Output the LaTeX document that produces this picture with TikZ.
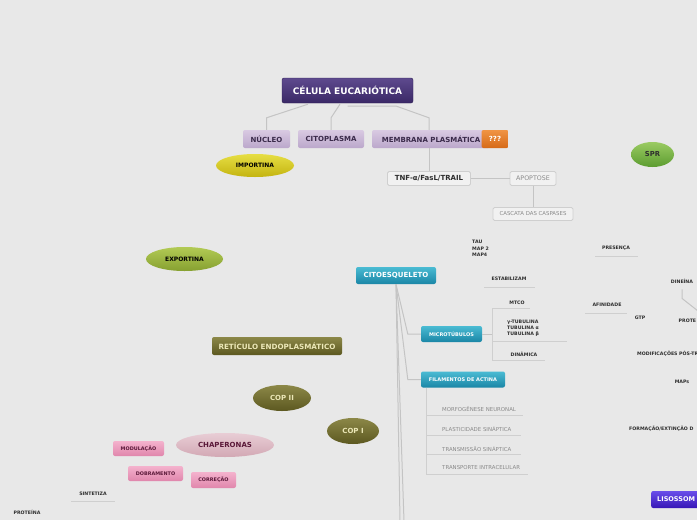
\documentclass[tikz,border=0pt]{standalone}
\usepackage{fontspec}
\setmainfont{DejaVu Sans}
\usetikzlibrary{shapes.geometric}
\definecolor{bgc}{HTML}{E8E8E8}
\definecolor{linec}{HTML}{C4C4C4}
\definecolor{ulc}{HTML}{CFCFCF}
\definecolor{txt}{HTML}{2E2E2E}
\definecolor{gtxt}{HTML}{8A8A8A}
\definecolor{titT}{HTML}{5E4A8E}\definecolor{titB}{HTML}{3A2866}
\definecolor{lpT}{HTML}{D9CAE2}\definecolor{lpB}{HTML}{BBA7CB}\definecolor{lpTx}{HTML}{3A2A4A}
\definecolor{orT}{HTML}{F09444}\definecolor{orB}{HTML}{D66A18}
\definecolor{tlT}{HTML}{4ABBD3}\definecolor{tlB}{HTML}{1A86A6}
\definecolor{olT}{HTML}{8C8848}\definecolor{olB}{HTML}{5C5820}\definecolor{olTx}{HTML}{ECE8B8}
\definecolor{pkT}{HTML}{F4B2CD}\definecolor{pkB}{HTML}{E086AC}\definecolor{pkTx}{HTML}{5A1838}
\definecolor{chT}{HTML}{E8CDD5}\definecolor{chB}{HTML}{D2A8B4}
\definecolor{yeT}{HTML}{E6DE44}\definecolor{yeB}{HTML}{C4B410}
\definecolor{grT}{HTML}{B2CA54}\definecolor{grB}{HTML}{86A030}
\definecolor{spT}{HTML}{9ACB62}\definecolor{spB}{HTML}{5C9C30}
\definecolor{liT}{HTML}{6A4EEA}\definecolor{liB}{HTML}{3616B6}
\begin{document}
\begin{tikzpicture}[x=1pt,y=-1pt,
  conn/.style={draw=linec, line width=1pt},
  uline/.style={draw=ulc, line width=1pt},
  box/.style={rectangle, rounded corners=2pt, inner sep=0pt},
  titlebox/.style={box, top color=titT, bottom color=titB, draw=titB!80!black, line width=0.4pt, text=white, font=\fontsize{9}{10}\selectfont\bfseries},
  lpbox/.style={box, top color=lpT, bottom color=lpB, text=lpTx, font=\fontsize{7}{8}\selectfont\bfseries},
  orbox/.style={box, top color=orT, bottom color=orB, text=white, font=\fontsize{7}{8}\selectfont\bfseries},
  tlbox/.style={box, top color=tlT, bottom color=tlB, text=white, font=\bfseries},
  olbox/.style={box, top color=olT, bottom color=olB, text=olTx, font=\fontsize{7.2}{8}\selectfont\bfseries},
  pkbox/.style={box, top color=pkT, bottom color=pkB, text=pkTx, font=\fontsize{4.9}{6}\selectfont\bfseries},
  gbox/.style={rectangle, rounded corners=1.5pt, inner sep=0pt, fill=bgc!60!white, draw=ulc, line width=0.8pt},
  ell/.style={ellipse, inner sep=0pt},
  lbl/.style={inner sep=1pt, text=txt, font=\fontsize{4.7}{6.5}\selectfont\bfseries},
  glbl/.style={inner sep=1pt, text=gtxt, font=\fontsize{5.4}{6}\selectfont, anchor=west}
]
\fill[bgc] (0,0) rectangle (697,520);
\useasboundingbox (0,0) rectangle (697,520);
\clip (0,0) rectangle (697,520);

% top level
\node[titlebox, minimum width=131pt, minimum height=25pt] (cel) at (347.5,90.5) {CÉLULA EUCARIÓTICA};
\node[lpbox, minimum width=47pt, minimum height=18pt] (nuc) at (266.5,139) {NÚCLEO};
\node[lpbox, minimum width=66pt, minimum height=18pt] (cito) at (331,139) {CITOPLASMA};
\node[lpbox, minimum width=118pt, minimum height=18pt] (memb) at (431,139) {MEMBRANA PLASMÁTICA};
\node[orbox, minimum width=27pt, minimum height=18pt] (q) at (495,139) {???};

\draw[conn] ([xshift=-39.5pt,yshift=-1pt]cel.south) -- ([yshift=12pt]nuc.north) -- (nuc.north);
\draw[conn] ([xshift=-7.5pt,yshift=-1pt]cel.south) -- ([yshift=12pt]cito.north) -- (cito.north);
\draw[conn] ([yshift=-3pt]cel.south) -- ++(49,0) -- ([xshift=-2pt,yshift=12pt]memb.north) -- ([xshift=-2pt]memb.north);

% membrana branch
\node[gbox, minimum width=83pt, minimum height=14pt, text=txt, font=\fontsize{7}{8}\selectfont\bfseries] (tnf) at (429,178.5) {TNF-α/FasL/TRAIL};
\node[gbox, minimum width=46pt, minimum height=14pt, text=gtxt, font=\fontsize{6.3}{7}\selectfont] (apo) at (533,178.5) {APOPTOSE};
\node[gbox, minimum width=80pt, minimum height=13pt, text=gtxt, font=\fontsize{5.4}{6}\selectfont] (casc) at (533,214) {CASCATA DAS CASPASES};
\draw[conn] ([xshift=-2pt]memb.south) -- (tnf.north);
\draw[conn] (tnf.east) -- (apo.west);
\draw[conn] (apo.south) -- (casc.north);

% ellipses
\node[ell, top color=yeT, bottom color=yeB, minimum width=78pt, minimum height=23pt, text=black, font=\fontsize{6}{7}\selectfont\bfseries] (imp) at (255,165.5) {IMPORTINA};
\node[ell, top color=grT, bottom color=grB, minimum width=77pt, minimum height=24pt, text=black, font=\fontsize{6}{7}\selectfont\bfseries] (exp) at (184.5,259) {EXPORTINA};
\node[ell, top color=spT, bottom color=spB, minimum width=43pt, minimum height=25pt, text=txt, font=\fontsize{6.8}{8}\selectfont\bfseries] (spr) at (652.5,154.5) {SPR};

% right side labels
\node[lbl, align=left, anchor=north west] (tau) at (471,239) {TAU\\MAP 2\\MAP4};
\node[lbl] (estab) at (509,279) {ESTABILIZAM};
\coordinate (estabL) at (484,287); \coordinate (estabR) at (535,287);
\draw[uline] (estabL) -- (estabR);
\node[lbl] (pres) at (616,248) {PRESENÇA};
\coordinate (presL) at (595,256); \coordinate (presR) at (638,256);
\draw[uline] (presL) -- (presR);
\node[lbl] (afin) at (607,305) {AFINIDADE};
\coordinate (afinL) at (585,313); \coordinate (afinR) at (627,313);
\draw[uline] (afinL) -- (afinR);
\node[lbl] (gtp) at (640,318) {GTP};
\node[lbl] (dine) at (682,281) {DINEÍNA};
\coordinate (dinE) at (698,311);
\draw[conn] ([yshift=-5pt]dine.south) -- ([yshift=-14pt]dine.south) -- (dinE);
\node[lbl, anchor=west, inner sep=0.5pt] (prot) at (678,321) {PROTE};
\node[lbl, anchor=west] (modif) at (636,354) {MODIFICAÇÕES PÓS-TR};
\node[lbl] (maps) at (682,382) {MAPs};
\node[lbl, anchor=west] (form) at (628,429) {FORMAÇÃO/EXTINÇÃO D};
\node[box, anchor=west, top color=liT, bottom color=liB, text=white, font=\fontsize{6.5}{8}\selectfont\bfseries, minimum height=17pt, text width=62pt, inner xsep=6pt, align=left] (lis) at (651,499.5) {LISOSSOM};

% citoesqueleto
\node[tlbox, font=\fontsize{7}{8}\selectfont\bfseries, minimum width=80pt, minimum height=17pt] (citoe) at (396,275.5) {CITOESQUELETO};
\node[tlbox, font=\fontsize{5}{6}\selectfont\bfseries, minimum width=61pt, minimum height=16pt] (micro) at (451.5,334) {MICROTÚBULOS};
\node[tlbox, font=\fontsize{5}{6}\selectfont\bfseries, minimum width=84pt, minimum height=16pt] (fil) at (463,379.5) {FILAMENTOS DE ACTINA};
\coordinate (bot1) at (404,521); \coordinate (bot2) at (400,521);
\draw[conn] (citoe.south) -- ([xshift=-13pt]micro.west) -- (micro.west);
\draw[conn] (citoe.south) -- ([xshift=-13pt]fil.west) -- (fil.west);
\draw[conn] (citoe.south) -- (bot1);
\draw[conn] (citoe.south) -- (bot2);

% microtubulos branch
\coordinate (mj) at (492,334);
\coordinate (mtop) at (492,308); \coordinate (mbot) at (492,360);
\draw[conn] (micro.east) -- (mj);
\draw[uline] (mtop) -- (mbot);
\coordinate (m1) at (530,308); \coordinate (m2a) at (492,341); \coordinate (m2) at (567,341); \coordinate (m3) at (545,360);
\draw[uline] (mtop) -- (m1);
\draw[uline] (m2a) -- (m2);
\draw[uline] (mbot) -- (m3);
\node[lbl] (mtco) at (517,302.5) {MTCO};
\node[lbl, align=left, anchor=north west] (tub) at (506,318.5) {γ-TUBULINA\\[-0.3pt]TUBULINA α\\[-0.3pt]TUBULINA β};
\node[lbl] (din) at (524,354) {DINÂMICA};

% filamentos branch
\coordinate (fv0) at (426,474);
\draw[uline] ([xshift=-37pt]fil.south) -- (fv0);
\coordinate (f1a) at (426,415) ; \coordinate (f1) at (523,415);
\coordinate (f2a) at (426,435) ; \coordinate (f2) at (521,435);
\coordinate (f3a) at (426,454) ; \coordinate (f3) at (521,454);
\coordinate (f4) at (528,474);
\draw[uline] (f1a) -- (f1);
\draw[uline] (f2a) -- (f2);
\draw[uline] (f3a) -- (f3);
\draw[uline] (fv0) -- (f4);
\node[glbl] (morf) at (441,409) {MORFOGÊNESE NEURONAL};
\node[glbl] (plas) at (441,429.5) {PLASTICIDADE SINÁPTICA};
\node[glbl] (trans) at (441,449) {TRANSMISSÃO SINÁPTICA};
\node[glbl] (transp) at (441,468) {TRANSPORTE INTRACELULAR};

% reticulo and cops
\node[olbox, minimum width=130pt, minimum height=18pt] (ret) at (277,346) {RETÍCULO ENDOPLASMÁTICO};
\node[ell, top color=olT, bottom color=olB, text=olTx, minimum width=58pt, minimum height=26pt, font=\fontsize{7}{8}\selectfont\bfseries] (cop2) at (282,398) {COP II};
\node[ell, top color=olT, bottom color=olB, text=olTx, minimum width=52pt, minimum height=26pt, font=\fontsize{7}{8}\selectfont\bfseries] (cop1) at (353,431) {COP I};

% chaperonas
\node[ell, top color=chT, bottom color=chB, text=pkTx, minimum width=98pt, minimum height=24pt, font=\fontsize{7}{8}\selectfont\bfseries] (chap) at (225,445) {CHAPERONAS};
\node[pkbox, minimum width=51pt, minimum height=15pt] (mod) at (138.5,448.5) {MODULAÇÃO};
\node[pkbox, minimum width=55pt, minimum height=15pt] (dob) at (155.5,473.5) {DOBRAMENTO};
\node[pkbox, minimum width=45pt, minimum height=16pt] (cor) at (213.5,480) {CORREÇÃO};
\node[lbl] (sint) at (93,494) {SINTETIZA};
\coordinate (sintL) at (71,501); \coordinate (sintR) at (115,501);
\draw[uline] (sintL) -- (sintR);
\node[lbl] (prote) at (27,512) {PROTEÍNA};
\end{tikzpicture}
\end{document}
